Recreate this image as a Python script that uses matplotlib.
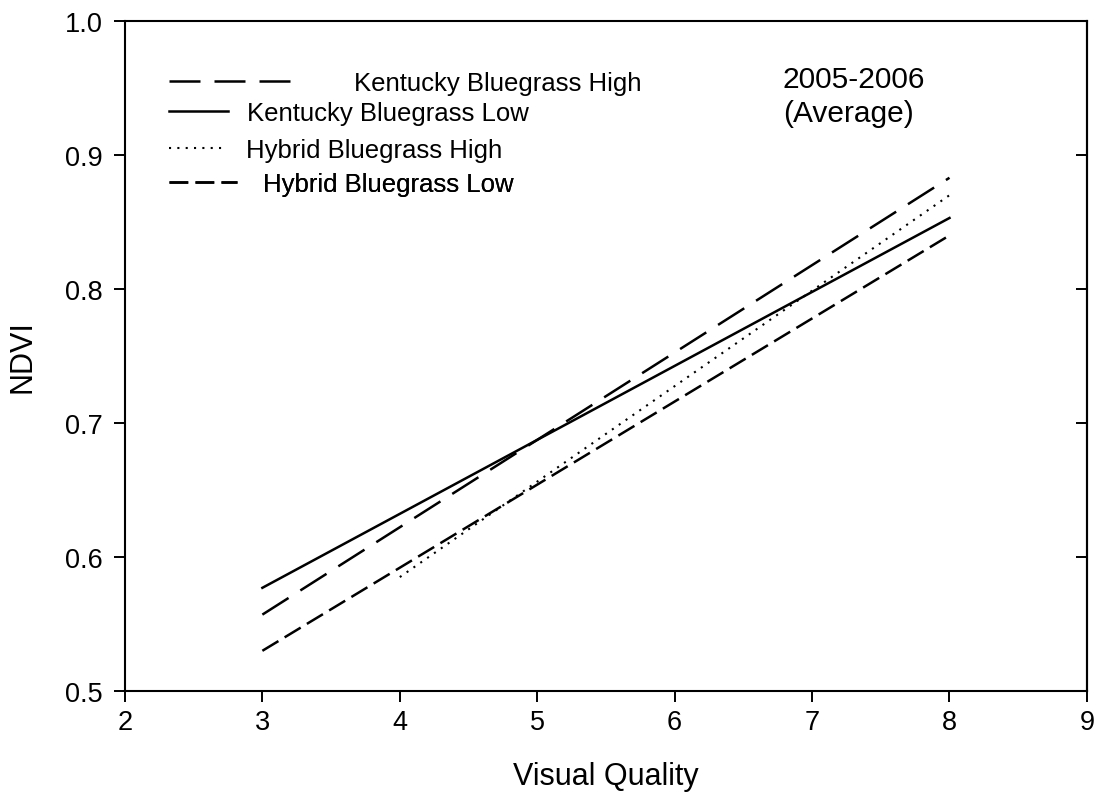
import matplotlib
matplotlib.use("Agg")
import matplotlib.pyplot as plt

plt.rcParams['font.family'] = ['Liberation Sans', 'DejaVu Sans']

# regression lines (visual quality -> NDVI)
kb_high_x = [3, 8]
kb_high_y = [0.557, 0.883]
kb_low_x = [3, 8]
kb_low_y = [0.577, 0.853]
hb_high_x = [4, 8]
hb_high_y = [0.585, 0.870]
hb_low_x = [3, 8]
hb_low_y = [0.530, 0.840]

labels = ["Kentucky Bluegrass High", "Kentucky Bluegrass Low",
          "Hybrid Bluegrass High", "Hybrid Bluegrass Low"]
x_ticks = [2, 3, 4, 5, 6, 7, 8, 9]
y_ticks = [0.5, 0.6, 0.7, 0.8, 0.9, 1.0]

fig = plt.figure(figsize=(10.99, 8.12), dpi=100)
ax = fig.add_axes([0.1137, 0.1478, 0.8753, 0.8251])

lw = 1.8
l1, = ax.plot(kb_high_x, kb_high_y, color='black', lw=lw, dashes=(12.4, 5.6))
l2, = ax.plot(kb_low_x, kb_low_y, color='black', lw=lw, linestyle='-')
l3, = ax.plot(hb_high_x, hb_high_y, color='black', lw=1.5, dashes=(1, 3))
l4, = ax.plot(hb_low_x, hb_low_y, color='black', lw=lw, dashes=(7.5, 2.9))

ax.set_xlim(2, 9)
ax.set_ylim(0.5, 1.0)
ax.set_xticks(x_ticks)
ax.set_yticks(y_ticks)
ax.set_yticklabels(["%.1f" % v for v in y_ticks])

for sp in ax.spines.values():
    sp.set_linewidth(1.5)
ax.tick_params(axis='both', direction='out', length=8, width=1.4,
               labelsize=19.5, top=False, right=False)
ax.tick_params(axis='x', pad=5)
ax.tick_params(axis='y', pad=8)

# inward ticks on the right spine
ax_r = ax.secondary_yaxis('right')
ax_r.set_yticks(y_ticks)
ax_r.tick_params(direction='in', length=8, width=1.4, labelright=False)
ax_r.spines['right'].set_linewidth(1.5)

ax.set_xlabel("Visual Quality", fontsize=22, labelpad=19)
ax.set_ylabel("NDVI", fontsize=22, labelpad=20)

ax.text(0.684, 0.935, "2005-2006\n(Average)", transform=ax.transAxes,
        fontsize=21.5, va='top', ha='left', linespacing=1.3)

# one legend per entry so each sample can have its own length
lines = [l1, l2, l3, l4]
handle_len = [5.2, 2.3, 2.2, 2.65]
text_pad = [2.0, 0.74, 0.8, 1.0]
row_y = [0.907, 0.862, 0.808, 0.757]
for ln, lab, hl, tp, yy in zip(lines, labels, handle_len, text_pad, row_y):
    leg = ax.legend([ln], [lab], loc='center left', bbox_to_anchor=(0.0457, yy),
                    frameon=False, fontsize=18.5, handlelength=hl,
                    handletextpad=tp, borderpad=0, borderaxespad=0)
    ax.add_artist(leg)

fig.savefig("out.png", dpi=100)
